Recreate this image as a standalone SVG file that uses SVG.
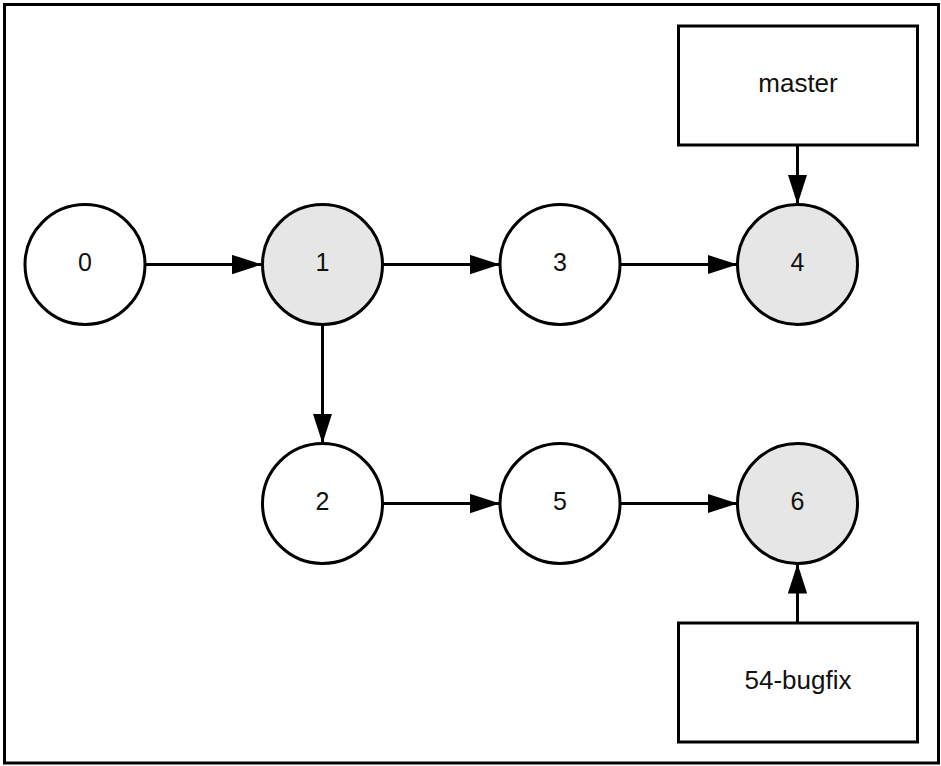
<svg xmlns="http://www.w3.org/2000/svg" width="941" height="766" viewBox="0 0 941 766">
<style>
.c{stroke:#000;stroke-width:3;fill:#fff}
.g{fill:#e6e6e6}
.t{font-family:"Liberation Sans",Arial,sans-serif;font-size:25px;fill:#111;text-anchor:middle}
.b{font-size:26px}
.e{stroke:#000;stroke-width:3;fill:none;marker-end:url(#ah)}
</style>
<defs>
<marker id="ah" markerUnits="userSpaceOnUse" markerWidth="30" markerHeight="20" viewBox="0 0 28 18" refX="28" refY="9" orient="auto">
<path d="M0,0 L28,9 L0,18 Z" fill="#000"/>
</marker>
</defs>
<rect x="4.5" y="4.5" width="934" height="758.5" fill="#fff" stroke="#000" stroke-width="3"/>
<g id="connectors">
<line class="e" x1="145" y1="264.5" x2="262" y2="264.5"/>
<line class="e" x1="382.5" y1="264.5" x2="500" y2="264.5"/>
<line class="e" x1="620" y1="264.5" x2="737.5" y2="264.5"/>
<line class="e" x1="322.5" y1="324.5" x2="322.5" y2="443.5"/>
<line class="e" x1="382.5" y1="503.5" x2="500" y2="503.5"/>
<line class="e" x1="620" y1="503.5" x2="737.5" y2="503.5"/>
<line class="e" x1="797.5" y1="145" x2="797.5" y2="204.5"/>
<line class="e" x1="797.5" y1="623" x2="797.5" y2="563.5"/>
</g>
<g id="n0"><circle class="c" cx="85" cy="264.5" r="60"/><text class="t" x="85" y="270.5">0</text></g>
<g id="n1"><circle class="c g" cx="322.5" cy="264.5" r="60"/><text class="t" x="322.5" y="270.5">1</text></g>
<g id="n3"><circle class="c" cx="560" cy="264.5" r="60"/><text class="t" x="560" y="270.5">3</text></g>
<g id="n4"><circle class="c g" cx="797.5" cy="264.5" r="60"/><text class="t" x="797.5" y="270.5">4</text></g>
<g id="n2"><circle class="c" cx="322.5" cy="503.5" r="60"/><text class="t" x="322.5" y="509.5">2</text></g>
<g id="n5"><circle class="c" cx="560" cy="503.5" r="60"/><text class="t" x="560" y="509.5">5</text></g>
<g id="n6"><circle class="c g" cx="797.5" cy="503.5" r="60"/><text class="t" x="797.5" y="509.5">6</text></g>
<g id="master"><rect class="c" x="678.5" y="26" width="239" height="119"/><text class="t b" x="798" y="91.5">master</text></g>
<g id="bugfix"><rect class="c" x="678.5" y="623" width="239" height="119"/><text class="t b" x="798" y="688.5">54-bugfix</text></g>
</svg>
